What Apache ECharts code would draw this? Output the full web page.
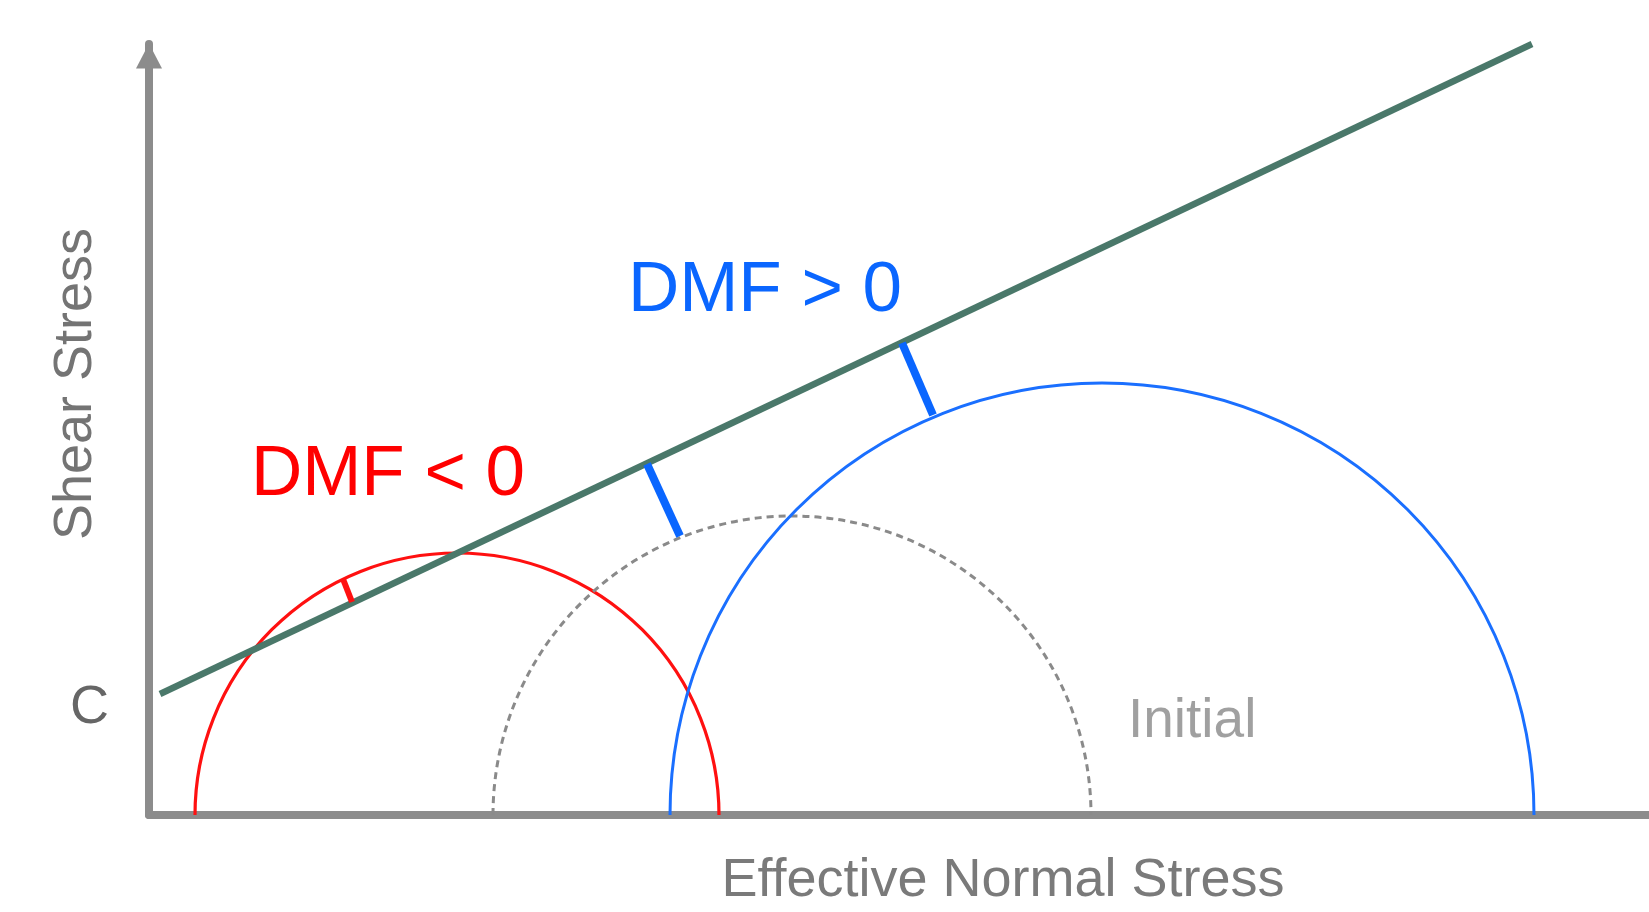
<!DOCTYPE html>
<html>
<head>
<meta charset="utf-8">
<script src="https://cdn.jsdelivr.net/npm/echarts@6/dist/echarts.min.js"></script>
<style>
html,body{margin:0;padding:0;background:#fff;}
#chart{width:1649px;height:912px;}
</style>
</head>
<body>
<div id="chart"></div>
<script>
// ---- data (stress units; equal scale on both axes) ----
const circleNames   = ['DMF < 0', 'Initial', 'DMF > 0'];
const circleCenters = [30.8, 64.3, 95.3];
const circleRadii   = [26.2, 29.9, 43.2];

const envelopeX = [1.1, 138.3];
const envelopeY = [12.1, 77.1];

const gapRedX  = [19.4, 20.3];
const gapRedY  = [23.6, 21.3];
const gapInitX = [49.8, 53.1];
const gapInitY = [35.1, 27.9];
const gapBlueX = [75.3, 78.4];
const gapBlueY = [47.2, 40.0];

const cohesionValue = 10.7;
const yTickLabel = 'C';
const xAxisTitle = 'Effective Normal Stress';
const yAxisTitle = 'Shear Stress';
const annotations = ['DMF > 0', 'DMF < 0', 'Initial'];

// ---- styles ----
const FONT = "'Liberation Sans', Arial, sans-serif";
const RED = '#ff1010';
const BLUE = '#1a6fff';
const GREEN = '#4a786a';
const AXIS = '#8c8c8c';
const circleStyles = [
  {stroke: RED, lineWidth: 3.2, lineDash: null},
  {stroke: '#8a8a8a', lineWidth: 3, lineDash: [7, 5]},
  {stroke: BLUE, lineWidth: 3, lineDash: null}
];

const pairs = (xs, ys) => xs.map((x, i) => [x, ys[i]]);

const chart = echarts.init(document.getElementById('chart'), null, {renderer: 'canvas'});

const option = {
  backgroundColor: '#fff',
  animation: false,
  grid: {left: 149, right: 0, top: 44, bottom: 97, containLabel: false},
  xAxis: {
    type: 'value', min: 0, max: 150,
    axisLine: {show: true, lineStyle: {color: AXIS, width: 8}},
    axisTick: {show: false}, axisLabel: {show: false}, splitLine: {show: false}
  },
  yAxis: {
    type: 'value', min: 0, max: 77.1, interval: cohesionValue,
    axisLine: {show: true, symbol: ['none', 'triangle'], symbolSize: [26, 25], symbolOffset: [0, -12],
      lineStyle: {color: AXIS, width: 8}},
    axisTick: {show: false},
    splitLine: {show: false},
    showMaxLabel: false,
    axisLabel: {
      show: true, margin: 40, fontSize: 54, color: '#666', fontFamily: FONT,
      formatter: v => Math.abs(v - cohesionValue) < 0.01 ? yTickLabel : ''
    }
  },
  graphic: [
    {type: 'text', x: 76, y: 384, rotation: Math.PI / 2,
      style: {text: yAxisTitle, font: '54px ' + FONT, fill: '#747474', align: 'center', verticalAlign: 'middle'}},
    {type: 'text', x: 1003, y: 881,
      style: {text: xAxisTitle, font: '54px ' + FONT, fill: '#7a7a7a', align: 'center', verticalAlign: 'middle'}},
    {type: 'text', x: 765, y: 291,
      style: {text: annotations[0], font: '71px ' + FONT, fill: '#0a66ff', align: 'center', verticalAlign: 'middle'}},
    {type: 'text', x: 388, y: 475,
      style: {text: annotations[1], font: '71px ' + FONT, fill: '#ff0000', align: 'center', verticalAlign: 'middle'}},
    {type: 'text', x: 1128, y: 722,
      style: {text: annotations[2], font: '55px ' + FONT, fill: '#a0a0a0', align: 'left', verticalAlign: 'middle'}}
  ],
  series: [
    {
      type: 'custom',
      name: 'Mohr circles',
      clip: false,
      z: 2,
      data: circleCenters.map((c, i) => [c, circleRadii[i], i]),
      renderItem: function (params, api) {
        const c = api.value(0), r = api.value(1), idx = api.value(2);
        const p = api.coord([c, 0]);
        const rp = api.size([r, 0])[0];
        const st = circleStyles[idx];
        return {
          type: 'arc',
          shape: {cx: p[0], cy: p[1], r: rp, startAngle: Math.PI, endAngle: 2 * Math.PI, clockwise: true},
          style: {stroke: st.stroke, lineWidth: st.lineWidth, lineDash: st.lineDash, fill: null}
        };
      }
    },
    {
      type: 'line', name: 'Failure envelope', clip: false, z: 3,
      data: pairs(envelopeX, envelopeY), symbol: 'none',
      lineStyle: {color: GREEN, width: 6.5}
    },
    {
      type: 'line', name: 'gap red', clip: false, z: 4,
      data: pairs(gapRedX, gapRedY), symbol: 'none',
      lineStyle: {color: RED, width: 6}
    },
    {
      type: 'line', name: 'gap initial', clip: false, z: 4,
      data: pairs(gapInitX, gapInitY), symbol: 'none',
      lineStyle: {color: '#0a66ff', width: 8}
    },
    {
      type: 'line', name: 'gap blue', clip: false, z: 4,
      data: pairs(gapBlueX, gapBlueY), symbol: 'none',
      lineStyle: {color: '#0a66ff', width: 8}
    }
  ]
};
chart.setOption(option);
</script>
</body>
</html>
